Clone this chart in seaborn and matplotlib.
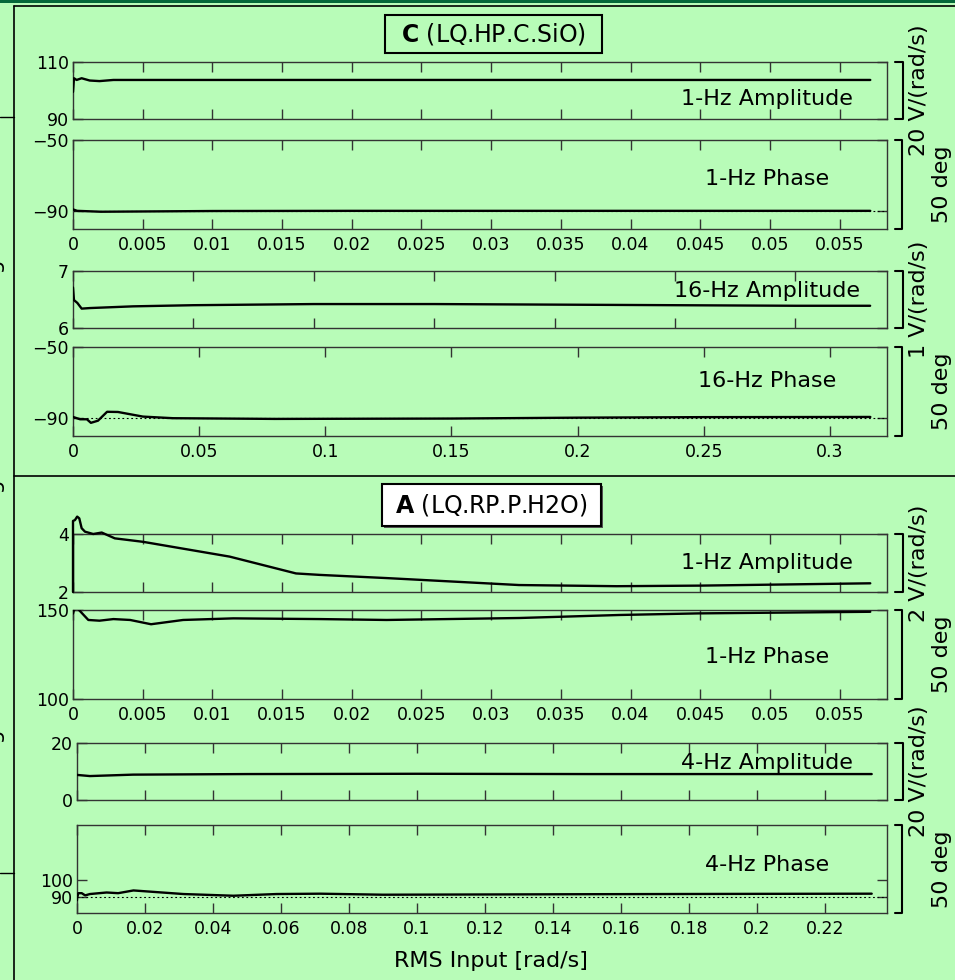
import numpy as np
import pandas as pd
import matplotlib
matplotlib.use("Agg")
import matplotlib.pyplot as plt
import seaborn as sns
from matplotlib.lines import Line2D
from matplotlib.patches import Rectangle
from matplotlib.ticker import FixedLocator, FuncFormatter, NullFormatter

# ---------------- data ----------------
# Station C (LQ.HP.C.SiO)
c_amp1_x = [0.0, 0.00007, 0.00026, 0.00062, 0.0012, 0.0019, 0.0029, 0.01, 0.02, 0.03, 0.04, 0.05, 0.0572]
c_amp1_y = [99.5, 104.3, 103.7, 104.3, 103.5, 103.3, 103.7, 103.7, 103.7, 103.7, 103.7, 103.7, 103.7]

c_ph1_x = [0.0, 0.0003, 0.002, 0.01, 0.02, 0.03, 0.04, 0.05, 0.0572]
c_ph1_y = [-89.0, -89.8, -90.3, -89.9, -89.8, -89.8, -89.8, -89.8, -89.8]

c_amp16_x = [0.0, 0.0004, 0.0018, 0.0036, 0.0071, 0.025, 0.05, 0.1, 0.15, 0.2, 0.25, 0.3, 0.331]
c_amp16_y = [6.71, 6.49, 6.44, 6.34, 6.35, 6.38, 6.40, 6.42, 6.42, 6.41, 6.40, 6.39, 6.39]

c_ph16_x = [0.0, 0.0028, 0.0055, 0.0071, 0.0099, 0.0135, 0.0178, 0.0277, 0.0396, 0.08, 0.15, 0.2, 0.25, 0.316]
c_ph16_y = [-89.3, -90.6, -90.6, -92.6, -91.4, -86.4, -86.5, -89.1, -90.0, -90.4, -90.2, -89.7, -89.4, -89.3]

# Station A (LQ.RP.P.H2O)
a_amp1_x = [0.0, 0.0, 0.00014, 0.0003, 0.00045, 0.00062, 0.00086, 0.00145, 0.00206, 0.003,
            0.00503, 0.01124, 0.016, 0.0177, 0.0225, 0.032, 0.039, 0.045, 0.0572]
a_amp1_y = [2.0, 4.45, 4.48, 4.6, 4.54, 4.2, 4.08, 4.0, 4.05, 3.85,
            3.73, 3.22, 2.64, 2.59, 2.48, 2.24, 2.2, 2.22, 2.3]

a_ph1_x = [0.0, 0.00007, 0.0003, 0.00043, 0.0011, 0.0019, 0.0029, 0.0041, 0.0056, 0.0079,
           0.0115, 0.0177, 0.0225, 0.032, 0.0392, 0.0449, 0.0572]
a_ph1_y = [148.0, 150.0, 151.3, 150.0, 144.4, 144.0, 144.9, 144.4, 142.0, 144.4,
           145.3, 144.9, 144.4, 145.5, 147.2, 148.1, 149.0]

a_amp4_x = [0.0, 0.0038, 0.0165, 0.05, 0.1, 0.15, 0.2, 0.2337]
a_amp4_y = [8.8, 8.4, 8.9, 9.1, 9.2, 9.1, 9.1, 9.1]

a_ph4_x = [0.0, 0.0, 0.0004, 0.0014, 0.0024, 0.0038, 0.0087, 0.0121, 0.0166, 0.0215,
           0.0313, 0.046, 0.0587, 0.0715, 0.09, 0.15, 0.2, 0.2337]
a_ph4_y = [88.0, 89.2, 92.1, 92.1, 90.8, 91.6, 92.5, 92.1, 93.7, 93.0,
           91.6, 90.6, 91.6, 91.8, 91.2, 91.5, 91.7, 91.8]

# tick values
xt_1hz = [0, 0.005, 0.01, 0.015, 0.02, 0.025, 0.03, 0.035, 0.04, 0.045, 0.05, 0.055]
xt_16hz = [0, 0.05, 0.1, 0.15, 0.2, 0.25, 0.3]
xt_4hz = [0, 0.02, 0.04, 0.06, 0.08, 0.1, 0.12, 0.14, 0.16, 0.18, 0.2, 0.22]

panel_labels = ["1-Hz Amplitude", "1-Hz Phase", "16-Hz Amplitude", "16-Hz Phase",
                "1-Hz Amplitude", "1-Hz Phase", "4-Hz Amplitude", "4-Hz Phase"]
scale_labels = ["20 V/(rad/s)", "50 deg", "1 V/(rad/s)", "50 deg",
                "2 V/(rad/s)", "50 deg", "20 V/(rad/s)", "50 deg"]
title_c = r"$\mathbf{C}$ (LQ.HP.C.SiO)"
title_a = r"$\mathbf{A}$ (LQ.RP.P.H2O)"
xlabel_text = "RMS Input [rad/s]"

# ---------------- style ----------------
sns.set_theme(style="ticks")
plt.rcParams["font.family"] = ["DejaVu Sans"]
plt.rcParams["axes.unicode_minus"] = True
plt.rcParams["mathtext.fontset"] = "dejavusans"
plt.rcParams["text.color"] = "black"
plt.rcParams["axes.labelcolor"] = "black"
plt.rcParams["xtick.color"] = "black"
plt.rcParams["ytick.color"] = "black"

BG = "#b8fcb8"
SPINE = "#333333"
W, H = 955, 980

fig = plt.figure(figsize=(W / 100, H / 100), dpi=100, facecolor=BG)


def frect(x0, y0, x1, y1):
    return [x0 / W, 1 - y1 / H, (x1 - x0) / W, (y1 - y0) / H]


def fline(xs, ys, color="black", lw=1.2, **kw):
    fig.add_artist(Line2D([x / W for x in xs], [1 - y / H for y in ys],
                          transform=fig.transFigure, color=color, lw=lw, **kw))


fmt = FuncFormatter(lambda v, p: "%g" % round(v, 6))

# panel specs: (rect px, x, y, xlim, ylim, xticks, show x labels, yticks, ref line, label baseline, clip)
panels = [
    ((73, 62, 887, 119), c_amp1_x, c_amp1_y, (0, 0.0584), (90, 110), xt_1hz, False, [90, 110], None, 105, True),
    ((73, 140, 887, 229), c_ph1_x, c_ph1_y, (0, 0.0584), (-100, -50), xt_1hz, True, [-90, -50], -90, 185, True),
    ((73, 271, 887, 328), c_amp16_x, c_amp16_y, (0, 0.338), (6, 7), xt_16hz, False, [6, 7], None, 297, True),
    ((73, 347, 887, 436), c_ph16_x, c_ph16_y, (0, 0.3226), (-100, -50), xt_16hz, True, [-90, -50], -90, 387, True),
    ((73, 534, 887, 592), a_amp1_x, a_amp1_y, (0, 0.0584), (2, 4), xt_1hz, False, [2, 4], None, 569, False),
    ((73, 610, 887, 699), a_ph1_x, a_ph1_y, (0, 0.0584), (100, 150), xt_1hz, True, [100, 150], None, 663, True),
    ((77, 743, 887, 800), a_amp4_x, a_amp4_y, (0, 0.2382), (0, 20), xt_4hz, False, [0, 20], None, 769, True),
    ((77, 825, 887, 913), a_ph4_x, a_ph4_y, (0, 0.2382), (80.5, 132), xt_4hz, True, [90, 100], 90, 871, True),
]

for i, (r, xs, ys, xl, yl, xt, showx, yt, ref, base, clip) in enumerate(panels):
    ax = fig.add_axes(frect(*r))
    ax.set_facecolor("none")
    df = pd.DataFrame({"x": xs, "y": ys})
    sns.lineplot(data=df, x="x", y="y", ax=ax, color="black", lw=1.7,
                 sort=False, estimator=None, zorder=3)
    if not clip:
        for ln in ax.lines:
            ln.set_clip_on(False)
    if ref is not None:
        ax.axhline(ref, color="black", lw=0.8, ls=(0, (1.6, 2.4)), zorder=2)
    ax.set_xlim(*xl)
    ax.set_ylim(*yl)
    ax.xaxis.set_major_locator(FixedLocator(xt))
    ax.set_yticks(yt)
    if showx:
        ax.xaxis.set_major_formatter(fmt)
    else:
        ax.xaxis.set_major_formatter(NullFormatter())
    ax.set_xlabel("")
    ax.set_ylabel("")
    ax.tick_params(axis="both", direction="in", length=7, width=1.0, color=SPINE,
                   labelcolor="black", labelsize=12.5, top=True, right=True)
    ax.tick_params(axis="x", pad=5)
    ax.tick_params(axis="y", pad=3)
    for sp in ax.spines.values():
        sp.set_color(SPINE)
        sp.set_linewidth(1.0)
        sp.set_visible(True)

    # label inside panel
    fig.text(767 / W, 1 - base / H, panel_labels[i], ha="center", va="baseline",
             fontsize=16, color="black")

    # scale bracket on the right
    x0, y0, x1, y1 = r
    bx = 903 if i % 2 == 0 else 902
    fline([895, bx, bx, 895], [y0, y0, y1, y1], lw=1.5)
    lx = 919 if i % 2 == 0 else 942
    fig.text(lx / W, 1 - ((y0 + y1) / 2) / H, scale_labels[i], rotation=90,
             ha="center", va="center", fontsize=16, color="black")

# x-axis label
fig.text(491 / W, 1 - 967 / H, xlabel_text, ha="center", va="baseline", fontsize=16, color="black")

# title boxes
fig.add_artist(Rectangle((385 / W, 1 - 53 / H), 217 / W, 38 / H, transform=fig.transFigure,
                         facecolor=BG, edgecolor="black", lw=1.5))
fig.text(493 / W, 1 - 34 / H, title_c, ha="center", va="center", fontsize=17, color="black")

fig.add_artist(Rectangle((384 / W, 1 - 528 / H), 219 / W, 42 / H, transform=fig.transFigure,
                         facecolor="#555555", edgecolor="none"))
fig.add_artist(Rectangle((382 / W, 1 - 526 / H), 219 / W, 42 / H, transform=fig.transFigure,
                         facecolor="white", edgecolor="black", lw=1.5))
fig.text(491 / W, 1 - 505 / H, title_a, ha="center", va="center", fontsize=17, color="black")

# page decorations
fig.add_artist(Rectangle((0, 1 - 3 / H), 1, 3 / H, transform=fig.transFigure,
                         facecolor="#05683a", edgecolor="none"))
fline([14, 955], [6, 6], lw=1.2)
fline([14, 14], [6, 980], lw=1.2)
fline([0, 14], [117, 117], lw=1.0)
fline([0, 14], [873, 873], lw=1.0)
fline([14, 955], [476, 476], lw=1.2)

# partial rotated labels of the neighbouring figure, cut off at the left edge (as in the reference)
for yc in [298, 518, 768]:
    fig.text(5 / W, 1 - yc / H, "50 deg", rotation=90, ha="right", va="center",
             fontsize=16, color="black")

fig.savefig("out.png", dpi=100, facecolor=BG)
